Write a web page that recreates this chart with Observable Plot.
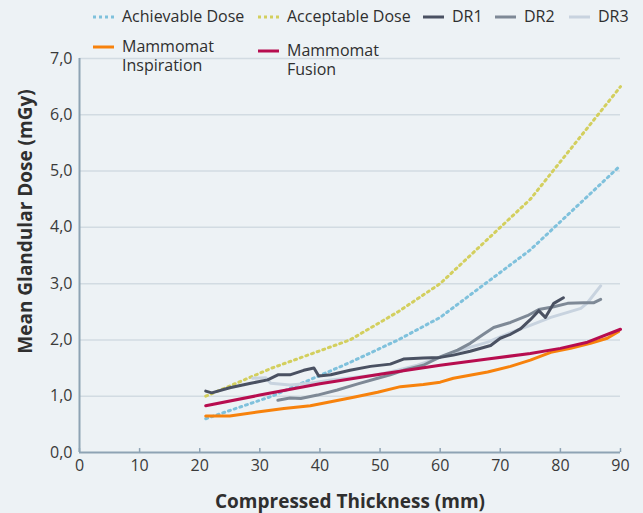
<!DOCTYPE html>
<html><head><meta charset="utf-8">
<script src="https://cdn.jsdelivr.net/npm/d3@7"></script>
<script src="https://cdn.jsdelivr.net/npm/@observablehq/plot@0.6"></script>
<style>
html,body{margin:0;padding:0;background:#edf2f5;}
#wrap{position:relative;width:643px;height:513px;font-family:"Open Sans",sans-serif;color:#2f2f2f;}
.item{position:absolute;display:flex;align-items:flex-start;font-size:16px;line-height:19px;white-space:nowrap;}
.item svg{flex:none;margin-right:8px;}
.item .ln{display:block;height:19px;}
</style></head>
<body><div id="wrap"><div id="chart"></div></div>
<script>
// ---- data ----
const seriesNames = ["Achievable Dose","Acceptable Dose","DR1","DR2","DR3","Mammomat Inspiration","Mammomat Fusion"];
const seriesColors = ["#7fc1dc","#d3cf5e","#4a5162","#7e8996","#c8d3df","#f7820c","#b70d4f"];

const achievableX = [21,32,45,53,60,75,90];
const achievableY = [0.6,1.0,1.6,2.0,2.4,3.6,5.1];

const acceptableX = [21,32,45,53,60,75,90];
const acceptableY = [1.0,1.5,2.0,2.5,3.0,4.5,6.5];

const dr1X = [21,22,25,28.5,31.3,33,35,37.3,39,39.8,41.8,45,48.4,51.7,53.9,57.2,60,62.2,65,68.4,70,71.7,73.4,75,76.4,77.5,78.9,80.5];
const dr1Y = [1.09,1.06,1.15,1.23,1.29,1.38,1.38,1.46,1.5,1.36,1.38,1.46,1.53,1.57,1.66,1.68,1.69,1.73,1.8,1.9,2.03,2.1,2.2,2.36,2.52,2.4,2.65,2.75];

const dr2X = [33,35,36.8,39.6,42.9,46.3,49.6,51.7,53.9,57.2,60,62.9,65,67.2,68.9,71.7,74.5,76.4,78.9,81.2,83.9,85.5,86.7];
const dr2Y = [0.93,0.97,0.96,1.02,1.11,1.22,1.32,1.38,1.46,1.55,1.7,1.82,1.94,2.1,2.22,2.31,2.43,2.54,2.59,2.65,2.66,2.66,2.72];

const dr3X = [28.8,31,31.8,35,38.4,41.8,46.3,49.6,52.9,56.2,60,62.2,67.9,71.7,75,78.4,81.2,83.4,84.5,86.7];
const dr3Y = [1.32,1.33,1.23,1.2,1.23,1.29,1.34,1.38,1.46,1.55,1.69,1.78,1.96,2.13,2.26,2.4,2.49,2.56,2.66,2.96];

const inspirationX = [21,25,29.6,34,38.4,41.8,45.6,49.6,53.4,57.2,60,62.2,67.9,71.7,75,78.4,81.7,85,87.8,89.7];
const inspirationY = [0.65,0.65,0.72,0.78,0.83,0.9,0.98,1.07,1.17,1.21,1.25,1.32,1.43,1.53,1.64,1.78,1.85,1.94,2.03,2.15];

const fusionX = [21,30,40,50,60,67.9,75,80,84.5,90];
const fusionY = [0.83,1.02,1.22,1.39,1.55,1.66,1.76,1.85,1.96,2.19];

const xTicks = [0,10,20,30,40,50,60,70,80,90];
const yTicks = [0,1,2,3,4,5,6,7];
const xLabel = "Compressed Thickness (mm)";
const yLabel = "Mean Glandular Dose (mGy)";

// ---- build ----
const zip = (xs, ys) => xs.map((x, i) => ({x, y: ys[i]}));
const series = [
  zip(achievableX, achievableY), zip(acceptableX, acceptableY),
  zip(dr1X, dr1Y), zip(dr2X, dr2Y), zip(dr3X, dr3Y),
  zip(inspirationX, inspirationY), zip(fusionX, fusionY)
];
const dotted = [true,true,false,false,false,false,false];
const drawOrder = [0,1,4,3,2,5,6];
const axisColor = "#8ea3b4";
const fmt = d => d.toFixed(1).replace(".", ",");

const lineMarks = drawOrder.map(i => Plot.line(series[i], {
  x: "x", y: "y", stroke: seriesColors[i],
  strokeWidth: 3,
  strokeDasharray: dotted[i] ? "2,4" : null,
  strokeLinejoin: "round"
}));

const chart = Plot.plot({
  width: 643, height: 513,
  marginLeft: 79, marginRight: 23, marginTop: 58, marginBottom: 61,
  style: {background: "transparent", fontFamily: "'Open Sans', sans-serif", fontSize: "16px", color: "#3a3a3a", overflow: "visible"},
  x: {domain: [0, 90]},
  y: {domain: [0, 7]},
  marks: [
    Plot.gridY(yTicks.filter(d => d > 0), {stroke: "#d2dbe2", strokeOpacity: 1, strokeWidth: 1.5}),
    Plot.axisY(yTicks, {tickSize: 0, tickPadding: 7, tickFormat: fmt, label: null, fontSize: 16}),
    Plot.axisX(xTicks, {tickSize: 0, tickPadding: 7, label: null, fontSize: 16}),
    Plot.ruleX(xTicks, {x: d => d, y1: 0, y2: 0.07, stroke: axisColor, strokeWidth: 1.5}),
    Plot.ruleY([0], {stroke: axisColor, strokeWidth: 2}),
    Plot.ruleX([0], {stroke: axisColor, strokeWidth: 2}),
    ...lineMarks,
    Plot.text([yLabel], {frameAnchor: "left", rotate: -90, textAnchor: "middle", lineAnchor: "middle", dx: -54, dy: -34, fontWeight: "bold", fontSize: 19, fill: "#2f2f2f"}),
    Plot.text([xLabel], {frameAnchor: "bottom", textAnchor: "middle", lineAnchor: "middle", dx: 0, dy: 49, fontWeight: "bold", fontSize: 19, fill: "#2f2f2f"})
  ]
});
document.getElementById("chart").appendChild(chart);

// legend (HTML)
const legendPos = [[93,6.5],[258,6.5],[423,6.5],[495,6.5],[569,6.5],[93,37],[258,40.5]];
const legendLines = [["Achievable Dose"],["Acceptable Dose"],["DR1"],["DR2"],["DR3"],["Mammomat","Inspiration"],["Mammomat","Fusion"]];
const wrap = document.getElementById("wrap");
seriesNames.forEach((name, i) => {
  const div = document.createElement("div");
  div.className = "item";
  div.style.left = legendPos[i][0] + "px";
  div.style.top = legendPos[i][1] + "px";
  const dash = dotted[i] ? 'stroke-dasharray="3,3"' : "";
  const lines = legendLines[i].map(t => `<span class="ln">${t}</span>`).join("");
  div.innerHTML = `<svg width="21" height="19"><line x1="0" x2="21" y1="10" y2="10" stroke="${seriesColors[i]}" stroke-width="3" ${dash}/></svg><div>${lines}</div>`;
  wrap.appendChild(div);
});
</script>
</body></html>
